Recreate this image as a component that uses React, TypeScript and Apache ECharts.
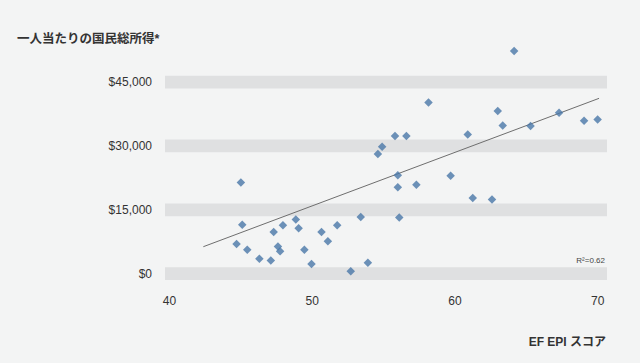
import React, { useEffect, useRef } from "react";
import * as echarts from "echarts";

const epiScores = [
  44.7, 45.0, 45.1, 45.45, 46.3, 47.1, 47.3, 47.6, 47.75, 47.95,
  48.85, 49.05, 49.45, 49.95, 50.65, 51.1, 51.75, 52.7, 53.4, 53.9,
  54.6, 54.9, 55.8, 56.6, 56.0, 56.0, 56.1, 57.3, 58.15, 59.7,
  60.9, 61.25, 62.6, 63.0, 63.35, 64.15, 65.3, 67.3, 69.05, 70.0,
];
const gniValues = [
  7000, 21400, 11500, 5600, 3500, 3100, 9800, 6400, 5300, 11400,
  12700, 10700, 5600, 2300, 9800, 7600, 11400, 600, 13300, 2600,
  28100, 29800, 32300, 32300, 23100, 20300, 13200, 20900, 40200, 23000,
  32700, 17800, 17400, 38200, 34800, 52300, 34700, 37800, 35900, 36200,
];
const trendX = [42.37, 70.1];
const trendY = [6340, 41170];
const xTickValues = [40, 50, 60, 70];
const yTickValues = [0, 15000, 30000, 45000];
const bandHalfWidth = 1500;

const titleText = "一人当たりの国民総所得*";
const xAxisTitle = "EF EPI スコア";
const r2Text = "R²=0.62";

const FONT = "'Liberation Sans', Arial, 'Noto Sans CJK JP', sans-serif";

function fmtMoney(v: number): string {
  return "$" + String(v).replace(/\B(?=(\d{3})+(?!\d))/g, ",");
}

export default function App() {
  const ref = useRef<HTMLDivElement>(null);
  useEffect(() => {
    if (!ref.current) return;
    const chart = echarts.init(ref.current, undefined, { renderer: "svg" });
    const points = epiScores.map((x, i) => [x, gniValues[i]]);
    const trend = trendX.map((x, i) => [x, trendY[i]]);
    chart.setOption({
      animation: false,
      backgroundColor: "#f3f4f4",
      textStyle: { fontFamily: FONT },
      grid: { left: 165, right: 33, top: 37.3, bottom: 82.9, containLabel: false },
      xAxis: {
        type: "value",
        min: 39.685,
        max: 70.657,
        axisLine: { show: false },
        axisTick: { show: false },
        splitLine: { show: false },
        axisLabel: {
          customValues: xTickValues,
          color: "#333",
          fontSize: 12,
          margin: 15,
          fontFamily: FONT,
        },
      },
      yAxis: {
        type: "value",
        min: -1500,
        max: 55500,
        axisLine: { show: false },
        axisTick: { show: false },
        splitLine: { show: false },
        axisLabel: {
          customValues: yTickValues,
          color: "#333",
          fontSize: 12,
          margin: 13,
          padding: [3, 0, 0, 0],
          fontFamily: FONT,
          formatter: (v: number) => fmtMoney(v),
        },
      },
      graphic: [
        {
          type: "text",
          left: 17,
          top: 33,
          style: {
            text: titleText,
            fill: "#333",
            font: `bold 12.5px ${FONT}`,
          },
        },
        {
          type: "text",
          right: 34,
          top: 336,
          style: {
            text: xAxisTitle,
            fill: "#333",
            font: `bold 12px ${FONT}`,
          },
        },
        {
          type: "text",
          right: 35,
          top: 256,
          style: {
            text: r2Text,
            fill: "#444",
            font: `8px ${FONT}`,
          },
        },
      ],
      series: [
        {
          type: "line",
          data: trend,
          showSymbol: false,
          symbol: "none",
          silent: true,
          z: 2,
          lineStyle: { color: "#6e6e6e", width: 1 },
          markArea: {
            silent: true,
            itemStyle: { color: "#dfe0e1" },
            data: yTickValues.map((v) => [
              { yAxis: v - bandHalfWidth },
              { yAxis: v + bandHalfWidth },
            ]),
          },
        },
        {
          type: "scatter",
          data: points,
          symbol: "diamond",
          symbolSize: 8.5,
          z: 3,
          itemStyle: { color: "#4877a8" },
        },
      ],
    });
    return () => chart.dispose();
  }, []);
  return (
    <div
      ref={ref}
      style={{ position: "absolute", left: 0, top: 0, width: 640, height: 363 }}
    />
  );
}
